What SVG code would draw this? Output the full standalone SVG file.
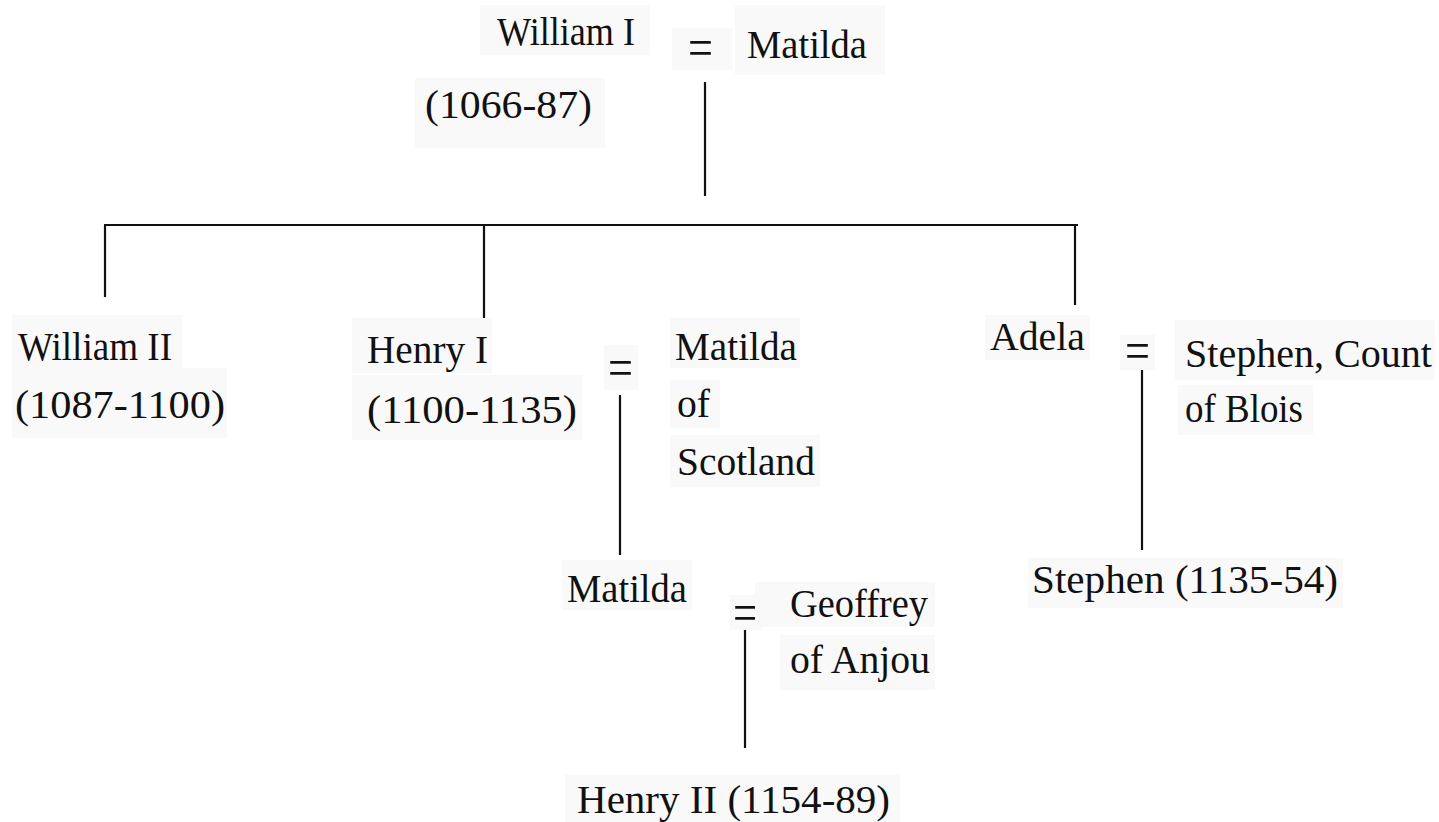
<svg xmlns="http://www.w3.org/2000/svg" width="1439" height="822" viewBox="0 0 1439 822">
<style>
.bg{fill:#f9f9f9}
.ln{stroke:#111;stroke-width:2.2;fill:none}
</style>
<rect width="1439" height="822" fill="#fff"/>
<g id="connectors">
<line class="ln" x1="705" y1="82" x2="705" y2="196"/>
<line class="ln" x1="104" y1="225" x2="1078" y2="225"/>
<line class="ln" x1="105" y1="225" x2="105" y2="297"/>
<line class="ln" x1="484" y1="225" x2="484" y2="320"/>
<line class="ln" x1="1075" y1="225" x2="1075" y2="305"/>
<line class="ln" x1="620" y1="395" x2="620" y2="555"/>
<line class="ln" x1="1142" y1="363" x2="1142" y2="550"/>
<line class="ln" x1="745" y1="623" x2="745" y2="748"/>
</g>
<g id="nodes" font-family="Liberation Serif" font-size="40" fill="#111">
<g id="william1">
<rect class="bg" x="480" y="5" width="170" height="50"/>
<rect class="bg" x="415" y="78" width="190" height="70"/>
<text x="497" y="45" textLength="138" lengthAdjust="spacingAndGlyphs">William I</text>
<text x="425" y="118" textLength="167" lengthAdjust="spacingAndGlyphs">(1066-87)</text>
</g>
<g id="marriage1">
<rect class="bg" x="672" y="28" width="60" height="42"/>
<text font-size="54" x="688" y="66" textLength="25" lengthAdjust="spacingAndGlyphs">=</text>
</g>
<g id="matilda1">
<rect class="bg" x="735" y="5" width="150" height="70"/>
<text x="747" y="58" textLength="120" lengthAdjust="spacingAndGlyphs">Matilda</text>
</g>
<g id="william2">
<rect class="bg" x="12" y="315" width="170" height="55"/>
<rect class="bg" x="12" y="368" width="215" height="70"/>
<text x="18" y="360" textLength="154" lengthAdjust="spacingAndGlyphs">William II</text>
<text x="15" y="418" textLength="210" lengthAdjust="spacingAndGlyphs">(1087-1100)</text>
</g>
<g id="henry1">
<rect class="bg" x="352" y="318" width="140" height="55"/>
<rect class="bg" x="352" y="375" width="230" height="65"/>
<text x="367" y="363" textLength="121" lengthAdjust="spacingAndGlyphs">Henry I</text>
<text x="367" y="423" textLength="210" lengthAdjust="spacingAndGlyphs">(1100-1135)</text>
</g>
<g id="marriage2">
<rect class="bg" x="604" y="345" width="34" height="45"/>
<text font-size="54" x="608" y="386" textLength="25" lengthAdjust="spacingAndGlyphs">=</text>
</g>
<g id="matilda-scotland">
<rect class="bg" x="670" y="318" width="130" height="50"/>
<rect class="bg" x="670" y="380" width="50" height="48"/>
<rect class="bg" x="670" y="435" width="150" height="52"/>
<text x="675" y="360" textLength="122" lengthAdjust="spacingAndGlyphs">Matilda</text>
<text x="677" y="417" textLength="33" lengthAdjust="spacingAndGlyphs">of</text>
<text x="677" y="475" textLength="138" lengthAdjust="spacingAndGlyphs">Scotland</text>
</g>
<g id="adela">
<rect class="bg" x="985" y="315" width="105" height="45"/>
<text x="990" y="350" textLength="95" lengthAdjust="spacingAndGlyphs">Adela</text>
</g>
<g id="marriage3">
<rect class="bg" x="1120" y="335" width="35" height="35"/>
<text font-size="54" x="1125" y="369" textLength="25" lengthAdjust="spacingAndGlyphs">=</text>
</g>
<g id="stephen-blois">
<rect class="bg" x="1175" y="320" width="260" height="60"/>
<rect class="bg" x="1178" y="385" width="135" height="50"/>
<text x="1185" y="367" textLength="247" lengthAdjust="spacingAndGlyphs">Stephen, Count</text>
<text x="1185" y="422" textLength="118" lengthAdjust="spacingAndGlyphs">of Blois</text>
</g>
<g id="stephen">
<rect class="bg" x="1028" y="558" width="315" height="50"/>
<text x="1032" y="593" textLength="306" lengthAdjust="spacingAndGlyphs">Stephen (1135-54)</text>
</g>
<g id="matilda2">
<rect class="bg" x="562" y="560" width="130" height="50"/>
<text x="567" y="602" textLength="120" lengthAdjust="spacingAndGlyphs">Matilda</text>
</g>
<g id="marriage4">
<rect class="bg" x="730" y="595" width="32" height="35"/>
<text font-size="54" x="733" y="631" textLength="25" lengthAdjust="spacingAndGlyphs">=</text>
</g>
<g id="geoffrey">
<rect class="bg" x="755" y="582" width="180" height="45"/>
<rect class="bg" x="780" y="635" width="155" height="55"/>
<text x="790" y="617" textLength="138" lengthAdjust="spacingAndGlyphs">Geoffrey</text>
<text x="790" y="673" textLength="140" lengthAdjust="spacingAndGlyphs">of Anjou</text>
</g>
<g id="henry2">
<rect class="bg" x="565" y="775" width="335" height="47"/>
<text x="577" y="813" textLength="313" lengthAdjust="spacingAndGlyphs">Henry II (1154-89)</text>
</g>
</g>
</svg>
